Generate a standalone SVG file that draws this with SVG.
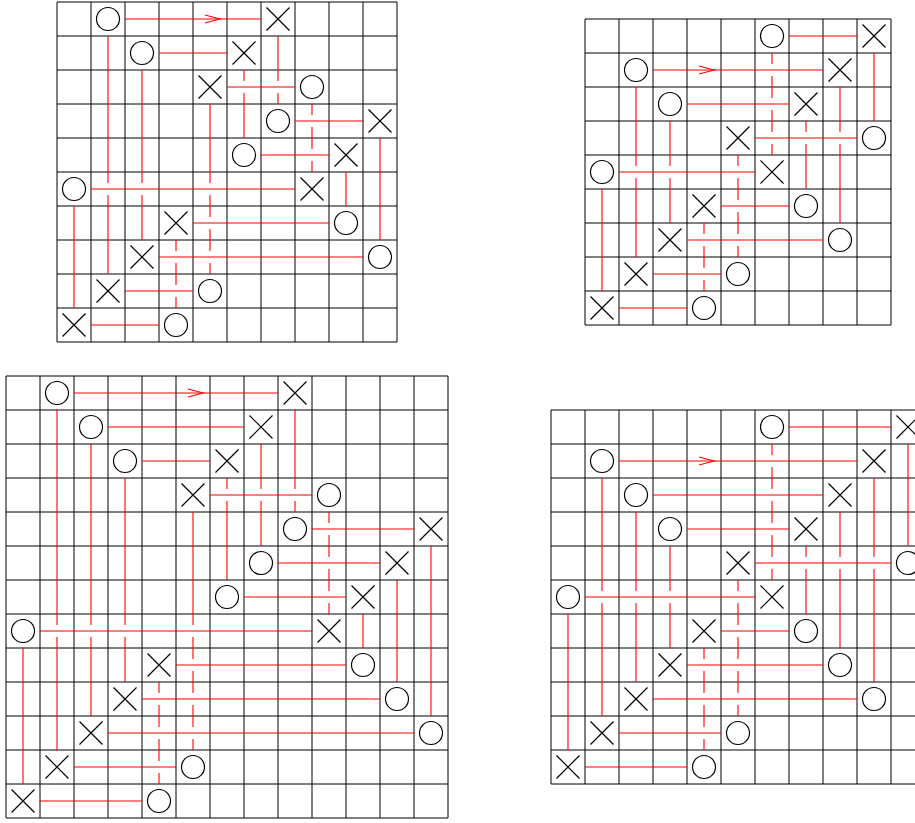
<svg xmlns="http://www.w3.org/2000/svg" xmlns:xlink="http://www.w3.org/1999/xlink" width="915" height="823" viewBox="0 0 915 823">
<style>
.grid{fill:none;stroke:#000;stroke-width:1}
.link{fill:none;stroke:#f00;stroke-width:1.1}
.sym{fill:none;stroke:#000;stroke-width:1.2}
</style>
<defs>
<circle id="O" r="11.5" class="sym"/>
<path id="X" d="M-11.5,-11.5L11.5,11.5M11.5,-11.5L-11.5,11.5" class="sym"/>
</defs>
<rect width="915" height="823" fill="#fff"/>

<!-- Board 1 -->
<g id="board1">
<path class="grid" d="M57,2V342M91,2V342M125,2V342M159,2V342M193,2V342M227,2V342M261,2V342M295,2V342M329,2V342M363,2V342M397,2V342M57,2H397M57,36H397M57,70H397M57,104H397M57,138H397M57,172H397M57,206H397M57,240H397M57,274H397M57,308H397M57,342H397"/>
<g id="b1-connectors">
<path class="link" d="M125,19H261M159,53H227M227,87H295M295,121H363M261,155H329M91,189H295M193,223H329M159,257H363M125,291H193M91,325H159"/>
<path class="link" d="M74,206V308M108,36V183M108,195V274M142,70V183M142,195V240M176,240V251M176,263V285M176,297V308M210,104V183M210,195V217M210,229V251M210,263V274M244,70V81M244,93V138M278,36V81M278,93V104M312,104V115M312,127V149M312,161V172M346,172V206M380,138V240"/>
<path class="link" d="M205,15L220,19L205,23"/>
</g>
<g id="b1-n0o"><use xlink:href="#O" x="108" y="19"/></g>
<g id="b1-n0x"><use xlink:href="#X" x="278" y="19"/></g>
<g id="b1-n1o"><use xlink:href="#O" x="142" y="53"/></g>
<g id="b1-n1x"><use xlink:href="#X" x="244" y="53"/></g>
<g id="b1-n2x"><use xlink:href="#X" x="210" y="87"/></g>
<g id="b1-n2o"><use xlink:href="#O" x="312" y="87"/></g>
<g id="b1-n3o"><use xlink:href="#O" x="278" y="121"/></g>
<g id="b1-n3x"><use xlink:href="#X" x="380" y="121"/></g>
<g id="b1-n4o"><use xlink:href="#O" x="244" y="155"/></g>
<g id="b1-n4x"><use xlink:href="#X" x="346" y="155"/></g>
<g id="b1-n5o"><use xlink:href="#O" x="74" y="189"/></g>
<g id="b1-n5x"><use xlink:href="#X" x="312" y="189"/></g>
<g id="b1-n6x"><use xlink:href="#X" x="176" y="223"/></g>
<g id="b1-n6o"><use xlink:href="#O" x="346" y="223"/></g>
<g id="b1-n7x"><use xlink:href="#X" x="142" y="257"/></g>
<g id="b1-n7o"><use xlink:href="#O" x="380" y="257"/></g>
<g id="b1-n8x"><use xlink:href="#X" x="108" y="291"/></g>
<g id="b1-n8o"><use xlink:href="#O" x="210" y="291"/></g>
<g id="b1-n9x"><use xlink:href="#X" x="74" y="325"/></g>
<g id="b1-n9o"><use xlink:href="#O" x="176" y="325"/></g>
</g>

<!-- Board 2 -->
<g id="board2">
<path class="grid" d="M585,19V325M619,19V325M653,19V325M687,19V325M721,19V325M755,19V325M789,19V325M823,19V325M857,19V325M891,19V325M585,19H891M585,53H891M585,87H891M585,121H891M585,155H891M585,189H891M585,223H891M585,257H891M585,291H891M585,325H891"/>
<g id="b2-connectors">
<path class="link" d="M789,36H857M653,70H823M687,104H789M755,138H857M619,172H755M721,206H789M687,240H823M653,274H721M619,308H687"/>
<path class="link" d="M602,189V291M636,87V166M636,178V257M670,121V166M670,178V223M704,223V234M704,246V268M704,280V291M738,155V166M738,178V200M738,212V234M738,246V257M772,53V64M772,76V98M772,110V132M772,144V155M806,121V132M806,144V189M840,87V132M840,144V223M874,53V121"/>
<path class="link" d="M699,66L714,70L699,74"/>
</g>
<g id="b2-n0o"><use xlink:href="#O" x="772" y="36"/></g>
<g id="b2-n0x"><use xlink:href="#X" x="874" y="36"/></g>
<g id="b2-n1o"><use xlink:href="#O" x="636" y="70"/></g>
<g id="b2-n1x"><use xlink:href="#X" x="840" y="70"/></g>
<g id="b2-n2o"><use xlink:href="#O" x="670" y="104"/></g>
<g id="b2-n2x"><use xlink:href="#X" x="806" y="104"/></g>
<g id="b2-n3x"><use xlink:href="#X" x="738" y="138"/></g>
<g id="b2-n3o"><use xlink:href="#O" x="874" y="138"/></g>
<g id="b2-n4o"><use xlink:href="#O" x="602" y="172"/></g>
<g id="b2-n4x"><use xlink:href="#X" x="772" y="172"/></g>
<g id="b2-n5x"><use xlink:href="#X" x="704" y="206"/></g>
<g id="b2-n5o"><use xlink:href="#O" x="806" y="206"/></g>
<g id="b2-n6x"><use xlink:href="#X" x="670" y="240"/></g>
<g id="b2-n6o"><use xlink:href="#O" x="840" y="240"/></g>
<g id="b2-n7x"><use xlink:href="#X" x="636" y="274"/></g>
<g id="b2-n7o"><use xlink:href="#O" x="738" y="274"/></g>
<g id="b2-n8x"><use xlink:href="#X" x="602" y="308"/></g>
<g id="b2-n8o"><use xlink:href="#O" x="704" y="308"/></g>
</g>

<!-- Board 3 -->
<g id="board3">
<path class="grid" d="M6,376V818M40,376V818M74,376V818M108,376V818M142,376V818M176,376V818M210,376V818M244,376V818M278,376V818M312,376V818M346,376V818M380,376V818M414,376V818M448,376V818M6,376H448M6,410H448M6,444H448M6,478H448M6,512H448M6,546H448M6,580H448M6,614H448M6,648H448M6,682H448M6,716H448M6,750H448M6,784H448M6,818H448"/>
<g id="b3-connectors">
<path class="link" d="M74,393H278M108,427H244M142,461H210M210,495H312M312,529H414M278,563H380M244,597H346M40,631H312M176,665H346M142,699H380M108,733H414M74,767H176M40,801H142"/>
<path class="link" d="M23,648V784M57,410V625M57,637V750M91,444V625M91,637V716M125,478V625M125,637V682M159,682V693M159,705V727M159,739V761M159,773V784M193,512V625M193,637V659M193,671V693M193,705V727M193,739V750M227,478V489M227,501V580M261,444V489M261,501V546M295,410V489M295,501V512M329,512V523M329,535V557M329,569V591M329,603V614M363,614V648M397,580V682M431,546V716"/>
<path class="link" d="M188,389L203,393L188,397"/>
</g>
<g id="b3-n0o"><use xlink:href="#O" x="57" y="393"/></g>
<g id="b3-n0x"><use xlink:href="#X" x="295" y="393"/></g>
<g id="b3-n1o"><use xlink:href="#O" x="91" y="427"/></g>
<g id="b3-n1x"><use xlink:href="#X" x="261" y="427"/></g>
<g id="b3-n2o"><use xlink:href="#O" x="125" y="461"/></g>
<g id="b3-n2x"><use xlink:href="#X" x="227" y="461"/></g>
<g id="b3-n3x"><use xlink:href="#X" x="193" y="495"/></g>
<g id="b3-n3o"><use xlink:href="#O" x="329" y="495"/></g>
<g id="b3-n4o"><use xlink:href="#O" x="295" y="529"/></g>
<g id="b3-n4x"><use xlink:href="#X" x="431" y="529"/></g>
<g id="b3-n5o"><use xlink:href="#O" x="261" y="563"/></g>
<g id="b3-n5x"><use xlink:href="#X" x="397" y="563"/></g>
<g id="b3-n6o"><use xlink:href="#O" x="227" y="597"/></g>
<g id="b3-n6x"><use xlink:href="#X" x="363" y="597"/></g>
<g id="b3-n7o"><use xlink:href="#O" x="23" y="631"/></g>
<g id="b3-n7x"><use xlink:href="#X" x="329" y="631"/></g>
<g id="b3-n8x"><use xlink:href="#X" x="159" y="665"/></g>
<g id="b3-n8o"><use xlink:href="#O" x="363" y="665"/></g>
<g id="b3-n9x"><use xlink:href="#X" x="125" y="699"/></g>
<g id="b3-n9o"><use xlink:href="#O" x="397" y="699"/></g>
<g id="b3-n10x"><use xlink:href="#X" x="91" y="733"/></g>
<g id="b3-n10o"><use xlink:href="#O" x="431" y="733"/></g>
<g id="b3-n11x"><use xlink:href="#X" x="57" y="767"/></g>
<g id="b3-n11o"><use xlink:href="#O" x="193" y="767"/></g>
<g id="b3-n12x"><use xlink:href="#X" x="23" y="801"/></g>
<g id="b3-n12o"><use xlink:href="#O" x="159" y="801"/></g>
</g>

<!-- Board 4 -->
<g id="board4">
<path class="grid" d="M551,410V784M585,410V784M619,410V784M653,410V784M687,410V784M721,410V784M755,410V784M789,410V784M823,410V784M857,410V784M891,410V784M925,410V784M551,410H925M551,444H925M551,478H925M551,512H925M551,546H925M551,580H925M551,614H925M551,648H925M551,682H925M551,716H925M551,750H925M551,784H925"/>
<g id="b4-connectors">
<path class="link" d="M789,427H891M619,461H857M653,495H823M687,529H789M755,563H891M585,597H755M721,631H789M687,665H823M653,699H857M619,733H721M585,767H687"/>
<path class="link" d="M568,614V750M602,478V591M602,603V716M636,512V591M636,603V682M670,546V591M670,603V648M704,648V659M704,671V693M704,705V727M704,739V750M738,580V591M738,603V625M738,637V659M738,671V693M738,705V716M772,444V455M772,467V489M772,501V523M772,535V557M772,569V580M806,546V557M806,569V614M840,512V557M840,569V648M874,478V557M874,569V682M908,444V546"/>
<path class="link" d="M699,457L714,461L699,465"/>
</g>
<g id="b4-n0o"><use xlink:href="#O" x="772" y="427"/></g>
<g id="b4-n0x"><use xlink:href="#X" x="908" y="427"/></g>
<g id="b4-n1o"><use xlink:href="#O" x="602" y="461"/></g>
<g id="b4-n1x"><use xlink:href="#X" x="874" y="461"/></g>
<g id="b4-n2o"><use xlink:href="#O" x="636" y="495"/></g>
<g id="b4-n2x"><use xlink:href="#X" x="840" y="495"/></g>
<g id="b4-n3o"><use xlink:href="#O" x="670" y="529"/></g>
<g id="b4-n3x"><use xlink:href="#X" x="806" y="529"/></g>
<g id="b4-n4x"><use xlink:href="#X" x="738" y="563"/></g>
<g id="b4-n4o"><use xlink:href="#O" x="908" y="563"/></g>
<g id="b4-n5o"><use xlink:href="#O" x="568" y="597"/></g>
<g id="b4-n5x"><use xlink:href="#X" x="772" y="597"/></g>
<g id="b4-n6x"><use xlink:href="#X" x="704" y="631"/></g>
<g id="b4-n6o"><use xlink:href="#O" x="806" y="631"/></g>
<g id="b4-n7x"><use xlink:href="#X" x="670" y="665"/></g>
<g id="b4-n7o"><use xlink:href="#O" x="840" y="665"/></g>
<g id="b4-n8x"><use xlink:href="#X" x="636" y="699"/></g>
<g id="b4-n8o"><use xlink:href="#O" x="874" y="699"/></g>
<g id="b4-n9x"><use xlink:href="#X" x="602" y="733"/></g>
<g id="b4-n9o"><use xlink:href="#O" x="738" y="733"/></g>
<g id="b4-n10x"><use xlink:href="#X" x="568" y="767"/></g>
<g id="b4-n10o"><use xlink:href="#O" x="704" y="767"/></g>
</g>
</svg>
